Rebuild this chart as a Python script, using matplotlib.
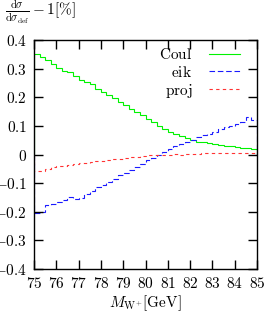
import numpy as np
import matplotlib
matplotlib.use("Agg")
import matplotlib.pyplot as plt
from matplotlib.ticker import FuncFormatter

plt.rcParams['mathtext.fontset'] = 'cm'
plt.rcParams['font.family'] = ['DejaVu Serif']

x_start, x_end, bin_width = 75.0, 85.0, 0.25

coul = [0.352, 0.340, 0.330, 0.316, 0.303, 0.293, 0.288, 0.273, 0.262, 0.252,
        0.245, 0.230, 0.220, 0.208, 0.196, 0.185, 0.172, 0.160, 0.148, 0.137,
        0.125, 0.112, 0.100, 0.088, 0.080, 0.072, 0.063, 0.056, 0.050, 0.045,
        0.042, 0.039, 0.036, 0.033, 0.031, 0.028, 0.026, 0.024, 0.022, 0.020]

eik = [-0.205, -0.200, -0.178, -0.172, -0.165, -0.158, -0.150, -0.155, -0.152, -0.138,
       -0.128, -0.112, -0.108, -0.097, -0.085, -0.072, -0.064, -0.054, -0.042, -0.032,
       -0.020, -0.012, 0.000, 0.008, 0.018, 0.028, 0.038, 0.045, 0.052, 0.060,
       0.068, 0.072, 0.080, 0.090, 0.095, 0.100, 0.108, 0.115, 0.130, 0.120]

proj = [-0.058, -0.056, -0.052, -0.045, -0.041, -0.040, -0.036, -0.034, -0.031, -0.029,
        -0.027, -0.024, -0.022, -0.019, -0.016, -0.014, -0.011, -0.009, -0.007, -0.005,
        -0.003, -0.002, -0.001, 0.000, 0.000, 0.001, 0.000, 0.001, 0.001, 0.002,
        0.004, 0.004, 0.004, 0.005, 0.004, 0.005, 0.005, 0.006, 0.005, 0.006]

labels = ['Coul', 'eik', 'proj']
x_ticks = [75, 76, 77, 78, 79, 80, 81, 82, 83, 84, 85]
y_ticks = [-0.4, -0.3, -0.2, -0.1, 0, 0.1, 0.2, 0.3, 0.4]

edges = np.arange(x_start, x_end + bin_width / 2, bin_width)

fig = plt.figure(figsize=(2.64, 3.13), dpi=100)
ax = fig.add_axes([34 / 264, 44 / 313, 223 / 264, 229 / 313])

lw = 0.8
ax.stairs(coul, edges, color=(0.0, 0.95, 0.0), lw=lw, label=r'$\mathrm{%s}$' % labels[0])
ax.stairs(eik, edges, color=(0.1, 0.1, 1.0), lw=lw, linestyle=(0, (5, 2.5)),
          label=r'$\mathrm{%s}$' % labels[1])
ax.stairs(proj, edges, color=(1.0, 0.2, 0.2), lw=lw, linestyle=(0, (3, 3)),
          label=r'$\mathrm{%s}$' % labels[2])

ax.set_xlim(x_start, x_end)
ax.set_ylim(-0.4, 0.4)
ax.set_xticks(x_ticks)
ax.set_yticks(y_ticks)

def fmt_y(v, pos):
    if abs(v) < 1e-9:
        return r'$0$'
    return r'$%.1f$' % v

ax.xaxis.set_major_formatter(FuncFormatter(lambda v, p: r'$%d$' % round(v)))
ax.yaxis.set_major_formatter(FuncFormatter(fmt_y))
ax.tick_params(direction='in', length=6.3, width=1.0, top=True, right=True,
               labelsize=11, pad=5, colors='black')
for s in ax.spines.values():
    s.set_linewidth(1.0)

ax.set_xlabel(r'$M_{\mathrm{W}^{+}}[\mathrm{GeV}]$', fontsize=11, labelpad=2)
fig.text(5 / 264, 1 - 12 / 313,
         r'$\frac{\mathrm{d}\sigma}{\mathrm{d}\sigma_{\mathrm{def}}} - 1[\%]$',
         fontsize=11, ha='left', va='center')

leg = ax.legend(loc='upper right', frameon=False, markerfirst=False,
                fontsize=11, handlelength=2.0, handletextpad=1.1,
                labelspacing=0.15, borderaxespad=0.3, bbox_to_anchor=(0.97, 1.015))

fig.savefig('out.png', dpi=100)
